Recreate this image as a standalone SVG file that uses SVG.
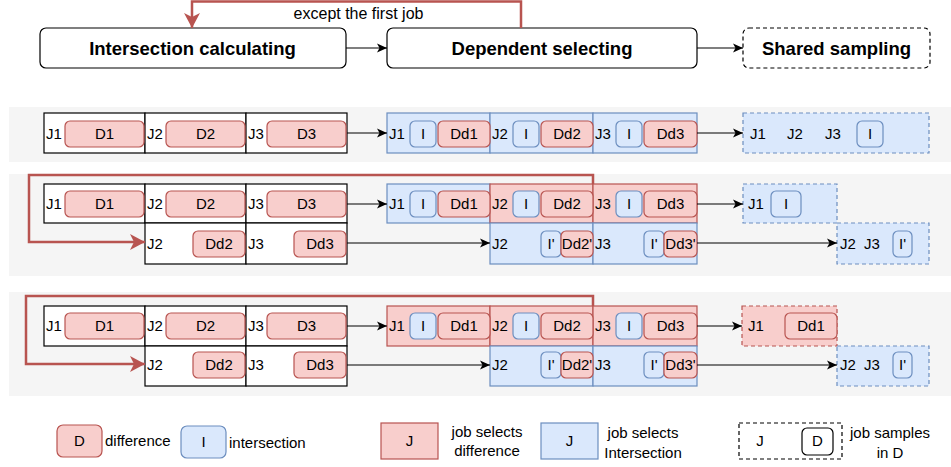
<svg xmlns="http://www.w3.org/2000/svg" width="951" height="467" viewBox="0 0 951 467">
<style>
text{font-family:"Liberation Sans",Arial,sans-serif;font-size:15px;fill:#000}
.hd{font-size:18.5px;font-weight:bold;text-anchor:middle}
.c{text-anchor:middle}
.lg{font-size:15px}
.band{fill:#f5f5f5;stroke:none}
.cell{fill:#fff;stroke:#000;stroke-width:1.2}
.rc{fill:#f8cecc;stroke:#b85450;stroke-width:1.2}
.bc{fill:#dae8fc;stroke:#6c8ebf;stroke-width:1.2}
.rp{fill:#f8cecc;stroke:#b85450;stroke-width:1.2}
.bp{fill:#dae8fc;stroke:#6c8ebf;stroke-width:1.2}
.bd{fill:#dae8fc;stroke:#6c8ebf;stroke-width:1.2;stroke-dasharray:4 3}
.rd{fill:#f8cecc;stroke:#b85450;stroke-width:1.2;stroke-dasharray:4 3}
.hbox{fill:#fff;stroke:#000;stroke-width:1.2}
.conn{fill:none;stroke:#000;stroke-width:1.2}
.red{fill:none;stroke:#b85450;stroke-width:2.5}
</style>
<defs>
<marker id="ar" markerUnits="userSpaceOnUse" markerWidth="11" markerHeight="10" refX="10" refY="5" orient="auto">
<path d="M0,0.5 L10,5 L0,9.5 L2.5,5 z" fill="#000"/>
</marker>
<marker id="arR" markerUnits="userSpaceOnUse" markerWidth="16" markerHeight="18" refX="15" refY="9" orient="auto">
<path d="M0,1 L15,9 L0,17 L4,9 z" fill="#b85450"/>
</marker>
</defs>

<!-- background bands -->
<rect class="band" x="9" y="107" width="942" height="55"/>
<rect class="band" x="9" y="174" width="942" height="102"/>
<rect class="band" x="9" y="292" width="942" height="104"/>

<!-- header -->
<g id="h-intersection">
<rect class="hbox" x="40" y="28" width="306" height="40" rx="6"/>
<text class="hd" x="192.5" y="55">Intersection calculating</text>
</g>
<g id="h-dependent">
<rect class="hbox" x="387" y="28" width="310" height="40" rx="6"/>
<text class="hd" x="542" y="55">Dependent selecting</text>
</g>
<g id="h-shared">
<rect class="hbox" x="743" y="28" width="187" height="40" rx="6" stroke-dasharray="4 3"/>
<text class="hd" x="836.5" y="55">Shared sampling</text>
</g>
<text x="358.5" y="19" class="c" style="font-size:16px">except the first job</text>

<!-- row 1 -->
<g id="r1-left">
<rect class="cell" x="44" y="113" width="101" height="40"/>
<rect class="cell" x="145" y="113" width="101" height="40"/>
<rect class="cell" x="246" y="113" width="101" height="40"/>
<text x="46" y="139">J1</text><text x="147" y="139">J2</text><text x="248" y="139">J3</text>
<rect class="rp" x="65" y="121" width="79" height="26" rx="5"/><text class="c" x="104.5" y="139">D1</text>
<rect class="rp" x="166" y="121" width="79" height="26" rx="5"/><text class="c" x="205.5" y="139">D2</text>
<rect class="rp" x="267" y="121" width="79" height="26" rx="5"/><text class="c" x="306.5" y="139">D3</text>
</g>
<g id="r1-mid">
<rect class="bc" x="387" y="113" width="103" height="40"/>
<rect class="bc" x="490" y="113" width="103" height="40"/>
<rect class="bc" x="593" y="113" width="104" height="40"/>
<text x="389" y="139">J1</text><text x="492" y="139">J2</text><text x="595" y="139">J3</text>
<rect class="bp" x="410" y="121" width="26" height="26" rx="5"/><text class="c" x="423" y="139">I</text>
<rect class="rp" x="438" y="121" width="52" height="26" rx="5"/><text class="c" x="464" y="139">Dd1</text>
<rect class="bp" x="513" y="121" width="26" height="26" rx="5"/><text class="c" x="526" y="139">I</text>
<rect class="rp" x="541" y="121" width="52" height="26" rx="5"/><text class="c" x="567" y="139">Dd2</text>
<rect class="bp" x="616" y="121" width="26" height="26" rx="5"/><text class="c" x="629" y="139">I</text>
<rect class="rp" x="644" y="121" width="53" height="26" rx="5"/><text class="c" x="670.5" y="139">Dd3</text>
</g>
<g id="r1-shared">
<rect class="bd" x="743" y="113" width="186" height="40"/>
<text class="c" x="758" y="139">J1</text><text class="c" x="795" y="139">J2</text><text class="c" x="833" y="139">J3</text>
<rect class="bp" x="857" y="121" width="26" height="26" rx="5"/><text class="c" x="870" y="139">I</text>
</g>

<!-- row 2 -->
<g id="r2-left">
<rect class="cell" x="44" y="184" width="101" height="39"/>
<rect class="cell" x="145" y="184" width="101" height="39"/>
<rect class="cell" x="246" y="184" width="101" height="39"/>
<rect class="cell" x="145" y="223" width="101" height="41"/>
<rect class="cell" x="246" y="223" width="101" height="41"/>
<text x="46" y="209">J1</text><text x="147" y="209">J2</text><text x="248" y="209">J3</text>
<rect class="rp" x="65" y="191" width="79" height="26" rx="5"/><text class="c" x="104.5" y="209">D1</text>
<rect class="rp" x="166" y="191" width="79" height="26" rx="5"/><text class="c" x="205.5" y="209">D2</text>
<rect class="rp" x="267" y="191" width="79" height="26" rx="5"/><text class="c" x="306.5" y="209">D3</text>
<text x="147" y="249">J2</text><text x="248" y="249">J3</text>
<rect class="rp" x="193" y="231" width="52" height="26" rx="5"/><text class="c" x="219" y="249">Dd2</text>
<rect class="rp" x="294" y="231" width="52" height="26" rx="5"/><text class="c" x="320" y="249">Dd3</text>
</g>
<g id="r2-mid">
<rect class="bc" x="387" y="184" width="103" height="39"/>
<rect class="rc" x="490" y="184" width="103" height="39"/>
<rect class="rc" x="593" y="184" width="104" height="39"/>
<rect class="bc" x="490" y="223" width="103" height="41"/>
<rect class="bc" x="593" y="223" width="104" height="41"/>
<text x="389" y="209">J1</text><text x="492" y="209">J2</text><text x="595" y="209">J3</text>
<rect class="bp" x="410" y="191" width="26" height="26" rx="5"/><text class="c" x="423" y="209">I</text>
<rect class="rp" x="438" y="191" width="52" height="26" rx="5"/><text class="c" x="464" y="209">Dd1</text>
<rect class="bp" x="513" y="191" width="26" height="26" rx="5"/><text class="c" x="526" y="209">I</text>
<rect class="rp" x="541" y="191" width="52" height="26" rx="5"/><text class="c" x="567" y="209">Dd2</text>
<rect class="bp" x="616" y="191" width="26" height="26" rx="5"/><text class="c" x="629" y="209">I</text>
<rect class="rp" x="644" y="191" width="53" height="26" rx="5"/><text class="c" x="670.5" y="209">Dd3</text>
<text x="492" y="249">J2</text><text x="595" y="249">J3</text>
<rect class="bp" x="541" y="231" width="20" height="26" rx="5"/><text class="c" x="551" y="249">I'</text>
<rect class="rp" x="561" y="231" width="32" height="26" rx="5"/><text class="c" x="577" y="249">Dd2'</text>
<rect class="bp" x="644" y="231" width="20" height="26" rx="5"/><text class="c" x="654" y="249">I'</text>
<rect class="rp" x="664" y="231" width="33" height="26" rx="5"/><text class="c" x="680.5" y="249">Dd3'</text>
</g>
<g id="r2-shared">
<rect class="bd" x="743" y="184" width="94" height="39"/>
<text class="c" x="756" y="209">J1</text>
<rect class="bp" x="771" y="191" width="30" height="26" rx="5"/><text class="c" x="786" y="209">I</text>
<rect class="bd" x="837" y="223" width="92" height="41"/>
<text class="c" x="848" y="249">J2</text><text class="c" x="872" y="249">J3</text>
<rect class="bp" x="893" y="231" width="19" height="26" rx="5"/><text class="c" x="902.5" y="249">I'</text>
</g>

<!-- row 3 -->
<g id="r3-left">
<rect class="cell" x="44" y="306" width="101" height="40"/>
<rect class="cell" x="145" y="306" width="101" height="40"/>
<rect class="cell" x="246" y="306" width="101" height="40"/>
<rect class="cell" x="145" y="346" width="101" height="40"/>
<rect class="cell" x="246" y="346" width="101" height="40"/>
<text x="46" y="331">J1</text><text x="147" y="331">J2</text><text x="248" y="331">J3</text>
<rect class="rp" x="65" y="313" width="79" height="26" rx="5"/><text class="c" x="104.5" y="331">D1</text>
<rect class="rp" x="166" y="313" width="79" height="26" rx="5"/><text class="c" x="205.5" y="331">D2</text>
<rect class="rp" x="267" y="313" width="79" height="26" rx="5"/><text class="c" x="306.5" y="331">D3</text>
<text x="147" y="370">J2</text><text x="248" y="370">J3</text>
<rect class="rp" x="193" y="352" width="52" height="26" rx="5"/><text class="c" x="219" y="370">Dd2</text>
<rect class="rp" x="294" y="352" width="52" height="26" rx="5"/><text class="c" x="320" y="370">Dd3</text>
</g>
<g id="r3-mid">
<rect class="rc" x="387" y="306" width="103" height="40"/>
<rect class="rc" x="490" y="306" width="103" height="40"/>
<rect class="rc" x="593" y="306" width="104" height="40"/>
<rect class="bc" x="490" y="346" width="103" height="40"/>
<rect class="bc" x="593" y="346" width="104" height="40"/>
<text x="389" y="331">J1</text><text x="492" y="331">J2</text><text x="595" y="331">J3</text>
<rect class="bp" x="410" y="313" width="26" height="26" rx="5"/><text class="c" x="423" y="331">I</text>
<rect class="rp" x="438" y="313" width="52" height="26" rx="5"/><text class="c" x="464" y="331">Dd1</text>
<rect class="bp" x="513" y="313" width="26" height="26" rx="5"/><text class="c" x="526" y="331">I</text>
<rect class="rp" x="541" y="313" width="52" height="26" rx="5"/><text class="c" x="567" y="331">Dd2</text>
<rect class="bp" x="616" y="313" width="26" height="26" rx="5"/><text class="c" x="629" y="331">I</text>
<rect class="rp" x="644" y="313" width="53" height="26" rx="5"/><text class="c" x="670.5" y="331">Dd3</text>
<text x="492" y="370">J2</text><text x="595" y="370">J3</text>
<rect class="bp" x="541" y="352" width="20" height="26" rx="5"/><text class="c" x="551" y="370">I'</text>
<rect class="rp" x="561" y="352" width="32" height="26" rx="5"/><text class="c" x="577" y="370">Dd2'</text>
<rect class="bp" x="644" y="352" width="20" height="26" rx="5"/><text class="c" x="654" y="370">I'</text>
<rect class="rp" x="664" y="352" width="33" height="26" rx="5"/><text class="c" x="680.5" y="370">Dd3'</text>
</g>
<g id="r3-shared">
<rect class="rd" x="742" y="306" width="95" height="40"/>
<text class="c" x="756" y="331">J1</text>
<rect class="rp" x="785" y="313" width="52" height="26" rx="5"/><text class="c" x="811" y="331">Dd1</text>
<rect class="bd" x="837" y="346" width="92" height="40"/>
<text class="c" x="848" y="370">J2</text><text class="c" x="872" y="370">J3</text>
<rect class="bp" x="893" y="352" width="19" height="26" rx="5"/><text class="c" x="902.5" y="370">I'</text>
</g>

<!-- connectors -->
<g id="connectors">
<path class="conn" d="M346,48 H387" marker-end="url(#ar)"/>
<path class="conn" d="M697,48 H743" marker-end="url(#ar)"/>
<path class="red" d="M521,28 V1.5 H192 V28" marker-end="url(#arR)"/>
<path class="conn" d="M347,133 H387" marker-end="url(#ar)"/>
<path class="conn" d="M697,133 H743" marker-end="url(#ar)"/>
<path class="conn" d="M347,204 H387" marker-end="url(#ar)"/>
<path class="conn" d="M347,243 H490" marker-end="url(#ar)"/>
<path class="conn" d="M697,204 H743" marker-end="url(#ar)"/>
<path class="conn" d="M697,243 H837" marker-end="url(#ar)"/>
<path class="red" d="M593,184 V175 H29 V242 H145" marker-end="url(#arR)"/>
<path class="conn" d="M347,326 H387" marker-end="url(#ar)"/>
<path class="conn" d="M347,365 H490" marker-end="url(#ar)"/>
<path class="conn" d="M697,326 H742" marker-end="url(#ar)"/>
<path class="conn" d="M697,365 H837" marker-end="url(#ar)"/>
<path class="red" d="M593,306 V296 H26 V364 H145" marker-end="url(#arR)"/>
</g>

<!-- legend -->
<g id="legend">
<rect class="rp" x="57" y="425" width="45" height="32" rx="6"/><text class="c lg" x="79.5" y="446">D</text>
<text class="lg" x="105" y="446">difference</text>
<rect class="bp" x="181" y="426" width="45" height="32" rx="6"/><text class="c lg" x="203.5" y="447">I</text>
<text class="lg" x="229" y="448">intersection</text>
<rect class="rc" x="381" y="423" width="57" height="36"/><text class="c lg" x="409.5" y="446">J</text>
<text class="c lg" x="487" y="437">job selects</text><text class="c lg" x="487" y="456">difference</text>
<rect class="bc" x="541" y="423" width="57" height="36"/><text class="c lg" x="569.5" y="446">J</text>
<text class="c lg" x="643" y="438">job selects</text><text class="c lg" x="643" y="458">Intersection</text>
<rect x="739" y="423" width="103" height="36" fill="#fff" stroke="#000" stroke-width="1.2" stroke-dasharray="4 3"/>
<text class="c lg" x="760" y="446">J</text>
<rect x="802" y="428" width="31" height="27" rx="5" fill="#fff" stroke="#000" stroke-width="1.2"/><text class="c lg" x="817.5" y="446">D</text>
<text class="c lg" x="890" y="438">job samples</text><text class="c lg" x="890" y="458">in D</text>
</g>
</svg>
